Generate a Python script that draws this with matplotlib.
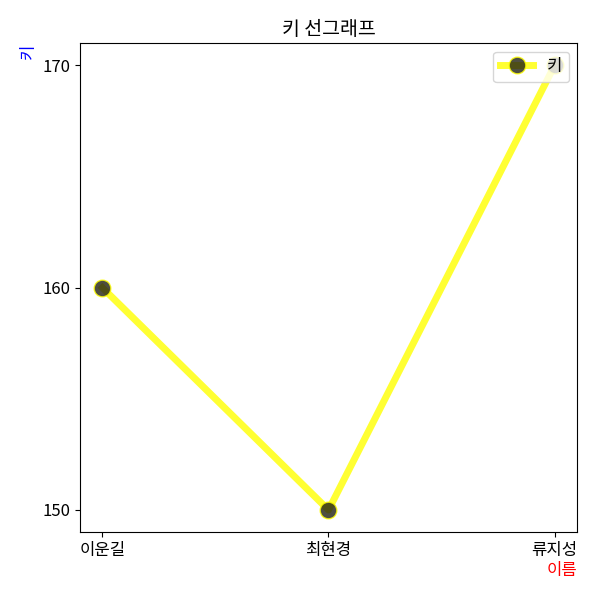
import matplotlib
matplotlib.use("Agg")
import matplotlib.pyplot as plt

plt.rcParams["font.family"] = ["Noto Sans CJK KR", "DejaVu Sans"]
plt.rcParams["axes.unicode_minus"] = False

names = ["이운길", "최현경", "류지성"]
heights = [160, 150, 170]

fig, ax = plt.subplots(figsize=(6, 6), dpi=100)
ax.plot(names, heights, color="yellow", alpha=0.8, linewidth=5,
        marker="o", markersize=12, markerfacecolor="#222211",
        markeredgecolor="yellow", label="키")
ax.set_title("키 선그래프", fontsize=14)
ax.set_xlabel("이름", loc="right", color="red", fontsize=12, labelpad=2)
ax.set_ylabel("키", loc="top", color="blue", fontsize=12)
ax.set_yticks([150, 160, 170])
ax.tick_params(labelsize=12)
ax.legend(loc="upper right", fontsize=12)
fig.subplots_adjust(left=0.133, right=0.962, top=0.928, bottom=0.113)
fig.savefig("out.png", dpi=100)
